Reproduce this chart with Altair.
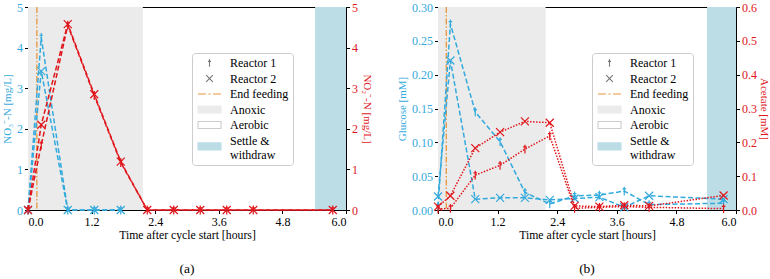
import altair as alt
import pandas as pd

# ---------------- data ----------------
T = [0, 0.25, 0.75, 1.25, 1.75, 2.25, 2.75, 3.25, 3.75, 4.25, 5.75]

# panel (a)
NO3_T = [0, 0.25, 0.75, 1.25, 1.75]
NO3_R1 = [0.0, 4.25, 0.0, 0.0, 0.0]
NO3_R2 = [0.0, 3.42, 0.0, 0.0, 0.0]
NO2_R1 = [0.0, 1.60, 4.55, 2.82, 1.17, 0.0, 0.0, 0.0, 0.0, 0.0, 0.0]
NO2_R2 = [0.0, 2.10, 4.58, 2.85, 1.19, 0.0, 0.0, 0.0, 0.0, 0.0, 0.0]

# panel (b)
GLU_R1 = [0.005, 0.275, 0.145, 0.101, 0.026, 0.009, 0.021, 0.022, 0.028, 0.008, 0.010]
GLU_R2 = [0.020, 0.221, 0.016, 0.018, 0.018, 0.015, 0.017, 0.019, 0.004, 0.021, 0.016]
ACE_R1 = [0.003, 0.005, 0.103, 0.132, 0.180, 0.219, 0.005, 0.008, 0.010, 0.008, 0.004]
ACE_R2 = [0.010, 0.042, 0.183, 0.230, 0.262, 0.258, 0.012, 0.010, 0.014, 0.012, 0.043]

END_FEED = [0.167]
ANOXIC = [0.0, 2.167]
SETTLE = [5.417, 6.0]
X_TICKS = [0.0, 1.2, 2.4, 3.6, 4.8, 6.0]
REACTORS = ["Reactor 1", "Reactor 2"]
LEG_CATS = ["Reactor 1", "Reactor 2", "End feeding", "Anoxic", "Aerobic", "Settle & withdraw"]

# ---------------- styles ----------------
FONT = "Liberation Serif"
BLUE = "#33aadd"
RED = "#e0161c"
ORANGE = "#e8963c"
GRAY_BG = "#ebebeb"
SETTLE_C = "#bcdde6"
H = 203
TICK_FS = 12

DAGGER = "M0,-1.1V1.1M-0.45,-0.55H0.45"
XMARK = "M-1,-1L1,1M-1,1L1,-1"
# legend glyphs (symbol size 64 -> 4 px per path unit)
LEG_SHAPES = [
    "M1.875,-0.95V0.95M1.5,-0.4H2.25",
    "M1.05,-0.85L2.7,0.85M1.05,0.85L2.7,-0.85",
    "M-1,0H1M1.6,0H2.15M2.75,0H4.75",
    "M-1,-0.875H4.75V0.875H-1Z",
    "M-1,-0.875H4.75V0.875H-1Z",
    "M-1,0.6H4.75V2.35H-1Z",
]
LEG_FILL = ["#777777", "#777777", ORANGE, GRAY_BG, "#ffffff", SETTLE_C]
LEG_STROKE = ["#777777", "#777777", ORANGE, GRAY_BG, "#cccccc", SETTLE_C]

XSC = alt.Scale(domain=[0, 6], nice=False)
XAXIS = alt.Axis(values=X_TICKS, format=".1f", title="Time after cycle start [hours]", grid=False,
                 labelFont=FONT, titleFont=FONT, labelColor="black", titleColor="black",
                 labelFontSize=TICK_FS, titleFontSize=11.75, labelPadding=2.5, titlePadding=2)


def long_df(ts, r1, r2):
    rows = []
    for name, vals in zip(REACTORS, [r1, r2]):
        for t, v in zip(ts, vals):
            rows.append({"t": t, "v": v, "reactor": name})
    return pd.DataFrame(rows)


def series(df, color, dash, yscale, yaxis):
    yenc = alt.Y("v:Q", scale=yscale, axis=yaxis)
    xenc = alt.X("t:Q", scale=XSC, axis=XAXIS)
    line = alt.Chart(df).mark_line(color=color, strokeDash=dash, strokeWidth=1.5).encode(
        x=xenc, y=yenc, detail="reactor:N", order="t:Q")
    p1 = alt.Chart(df).transform_filter(alt.datum.reactor == "Reactor 1").mark_point(
        shape=DAGGER, size=64, color=color, filled=False, strokeWidth=1.2, opacity=1).encode(x=xenc, y=yenc)
    p2 = alt.Chart(df).transform_filter(alt.datum.reactor == "Reactor 2").mark_point(
        shape=XMARK, size=64, color=color, filled=False, strokeWidth=1.2, opacity=1).encode(x=xenc, y=yenc)
    return alt.layer(line, p1, p2)


def panel(W, blue_df, red_df, blue_scale, blue_axis, red_scale, red_axis, red_dash, caption, legx):
    bg = alt.Chart(pd.DataFrame({"t": [ANOXIC[0], SETTLE[0]], "b": [ANOXIC[1], SETTLE[1]],
                                 "k": ["Anoxic", "Settle"]})).mark_rect().encode(
        x=alt.X("t:Q", scale=XSC, axis=XAXIS), x2="b:Q",
        y=alt.value(0), y2=alt.value(H),
        color=alt.Color("k:N", scale=alt.Scale(domain=["Anoxic", "Settle"], range=[GRAY_BG, SETTLE_C]), legend=None))
    feed = alt.Chart(pd.DataFrame({"t": END_FEED})).mark_rule(
        color=ORANGE, strokeDash=[6, 2, 1.5, 2], strokeWidth=1.3).encode(
        x=alt.X("t:Q", scale=XSC, axis=XAXIS), y=alt.value(0), y2=alt.value(H))
    blue = series(blue_df, BLUE, [5, 2.5], blue_scale, blue_axis)
    red = series(red_df, RED, red_dash, red_scale, red_axis)
    leg = alt.Legend(title=None, orient="none", legendX=legx, legendY=46,
                     strokeColor="#cccccc", fillColor="white", padding=4, cornerRadius=3,
                     labelFont=FONT, labelFontSize=12, labelColor="black", rowPadding=3.5,
                     symbolSize=64, symbolStrokeWidth=1.1, labelOffset=22,
                     labelExpr="datum.label == 'Settle & withdraw' ? ['Settle &', 'withdraw'] : datum.label")
    legend_layer = alt.Chart(pd.DataFrame({"cat": LEG_CATS})).transform_filter("false").mark_point(
        opacity=1).encode(
        fill=alt.Fill("cat:N", scale=alt.Scale(domain=LEG_CATS, range=LEG_FILL), legend=leg),
        stroke=alt.Stroke("cat:N", scale=alt.Scale(domain=LEG_CATS, range=LEG_STROKE), legend=leg),
        shape=alt.Shape("cat:N", scale=alt.Scale(domain=LEG_CATS, range=LEG_SHAPES), legend=leg))
    cap = alt.Chart(pd.DataFrame({"c": [caption]})).mark_text(
        font=FONT, fontSize=13.5, color="black").encode(
        text="c:N", x=alt.value(W / 2), y=alt.value(262))
    return alt.layer(bg, feed, blue, red, legend_layer, cap).resolve_scale(
        y="independent", color="independent").properties(width=W, height=H)


def yaxis(orient, vals, fmt, title, color, tpad=4):
    return alt.Axis(orient=orient, values=vals, format=fmt, title=title, labelColor=color,
                    titleColor=color, grid=False, labelFont=FONT, titleFont=FONT,
                    labelFontSize=TICK_FS, titleFontSize=11, titlePadding=tpad)


left = panel(
    318,
    long_df(NO3_T, NO3_R1, NO3_R2), long_df(T, NO2_R1, NO2_R2),
    alt.Scale(domain=[0, 5], nice=False),
    yaxis("left", [0, 1, 2, 3, 4, 5], "d", "NO₃⁻-N [mg/L]", BLUE),
    alt.Scale(domain=[0, 5], nice=False),
    yaxis("right", [0, 1, 2, 3, 4, 5], "d", "NO₂⁻-N [mg/L]", RED),
    [5, 2.5], "(a)", 164)

right = panel(
    298,
    long_df(T, GLU_R1, GLU_R2), long_df(T, ACE_R1, ACE_R2),
    alt.Scale(domain=[0, 0.3], nice=False),
    yaxis("left", [0, 0.05, 0.1, 0.15, 0.2, 0.25, 0.3], ".2f", "Glucose [mM]", BLUE),
    alt.Scale(domain=[0, 0.6], nice=False),
    yaxis("right", [0, 0.1, 0.2, 0.3, 0.4, 0.5, 0.6], ".1f", "Acetate [mM]", RED, 1.5),
    [1.5, 1.5], "(b)", 154)

chart = alt.hconcat(left, right, spacing=23).resolve_scale(
    fill="independent", stroke="independent", shape="independent", color="independent"
).resolve_legend(fill="independent", stroke="independent", shape="independent").properties(
    padding={"left": 1, "top": 0, "right": 0, "bottom": 0}
).configure(font=FONT).configure_view(stroke="black", strokeWidth=1).configure_axis(
    labelFont=FONT, titleFont=FONT, titleFontWeight="normal", tickColor="black", tickSize=3.5,
    domain=False, labelPadding=2
).configure_legend(labelFont=FONT, labelFontSize=12)

chart.save("out.html", embed_options={"renderer": "svg", "actions": False})
